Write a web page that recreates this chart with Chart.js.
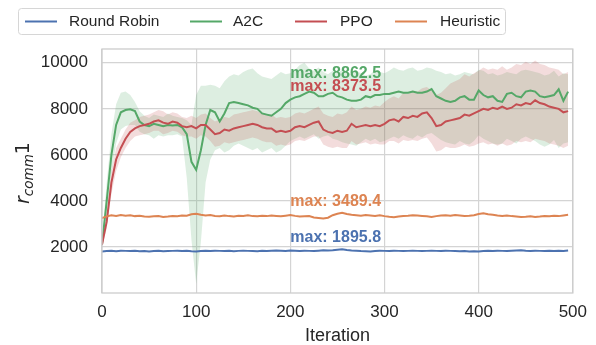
<!DOCTYPE html>
<html><head><meta charset="utf-8">
<script src="https://cdn.jsdelivr.net/npm/chart.js@4/dist/chart.umd.min.js"></script>
<style>html,body{margin:0;padding:0;background:#fff;} canvas{display:block;}</style>
</head><body>
<canvas id="c" width="596" height="345" style="width:596px;height:345px"></canvas>
<script>
const iterations = [0,5,10,15,20,25,30,35,40,45,50,55,60,65,70,75,80,85,90,95,100,105,110,115,120,125,130,135,140,145,150,155,160,165,170,175,180,185,190,195,200,205,210,215,220,225,230,235,240,245,250,255,260,265,270,275,280,285,290,295,300,305,310,315,320,325,330,335,340,345,350,355,360,365,370,375,380,385,390,395,400,405,410,415,420,425,430,435,440,445,450,455,460,465,470,475,480,485,490,495];

const roundRobin = [1800,1820,1830,1810,1840,1830,1820,1830,1810,1820,1800,1820,1830,1810,1820,1830,1840,1820,1830,1810,1800,1820,1830,1820,1840,1830,1820,1830,1810,1830,1840,1830,1820,1810,1830,1820,1840,1850,1840,1830,1850,1840,1830,1840,1830,1820,1840,1860,1850,1860,1880,1896,1870,1850,1840,1820,1810,1800,1820,1840,1830,1820,1840,1830,1820,1830,1840,1830,1820,1830,1840,1830,1820,1840,1830,1820,1810,1820,1800,1810,1800,1820,1830,1820,1840,1830,1820,1840,1850,1860,1840,1830,1840,1830,1820,1830,1820,1840,1830,1850];

const a2cMean = [2100,4000,6000,7300,7850,7950,7980,7900,7450,7300,7250,7350,7300,7250,7300,7280,7300,7200,6900,5700,5350,6200,7300,7950,7850,7450,7800,8250,8300,8250,8200,8150,8050,8000,7800,7750,7700,7850,8000,8250,8400,8500,8550,8650,8750,8700,8550,8550,8650,8700,8550,8500,8400,8350,8350,8400,8550,8500,8600,8600,8650,8650,8700,8750,8700,8700,8750,8700,8700,8750,8860,8550,8450,8350,8300,8350,8500,8550,8400,8400,8800,8600,8500,8550,8350,8300,8650,8700,8550,8500,8750,8800,8750,8550,8500,8550,8600,8850,8350,8750];
const a2cUpper = [2300,4800,6900,8200,8700,8750,8600,8300,7900,7700,7600,7750,7700,7650,7800,7700,7650,7600,7500,7300,8600,9000,9000,9050,9000,8900,9200,9400,9500,9450,9600,9700,9750,9550,9400,9350,9300,9450,9600,9500,9550,9700,9900,10000,9750,9650,9800,9600,9500,9650,9550,9700,9600,9500,9650,9550,9450,9500,9700,9600,9550,9650,9800,9700,9650,9750,9800,9650,9700,9800,9750,9650,9600,9500,9550,9450,9500,9600,9550,9500,9700,9650,9500,9550,9450,9500,9600,9550,9500,9650,9700,9650,9600,9550,9450,9500,9650,9400,9550,9500];
const a2cLower = [1950,3400,5200,6500,7100,7250,7300,7300,7000,6900,6850,6700,6850,6800,6850,6850,6900,6800,5000,2300,400,2200,4800,5800,6200,6300,6100,6200,6400,6500,6400,6300,6200,6300,6100,6200,6300,6100,6200,6400,6600,6700,6800,6700,6800,6900,6700,6800,6850,6700,6650,6550,6500,6450,6400,6550,6700,6600,6700,6550,6600,6700,6800,6700,6850,6750,6700,6850,6750,6900,6950,6800,6650,6550,6500,6450,6600,6500,6450,6600,6850,6700,6600,6500,6450,6500,6700,6600,6500,6700,6800,6700,6600,6450,6350,6450,6650,6300,6500,6550];

const ppoMean = [2100,3100,4800,5800,6300,6700,7000,7150,7250,7300,7350,7450,7500,7400,7350,7450,7400,7250,7200,7250,7150,7300,7300,7100,6900,6950,7100,7050,7150,7200,7250,7300,7350,7300,7200,7150,7150,7000,7050,7000,7050,7200,7250,7200,7300,7400,7450,7100,7000,6950,7050,7000,7050,7350,7200,7250,7300,7250,7300,7250,7350,7500,7550,7450,7650,7600,7700,7650,7800,7850,7600,7250,7300,7450,7500,7550,7600,7750,7700,7800,7900,8000,7950,8050,8000,8100,8000,8050,8200,8150,8250,8200,8370,8250,8200,8100,8050,8000,7850,7900];
const ppoUpper = [2200,3400,5300,6300,6700,7100,7400,7500,7650,7700,7750,7850,7950,7900,7750,7850,7800,7650,7600,7700,7600,7750,7800,7600,7450,7550,7650,7600,7750,7800,7850,7900,7950,7900,7800,7750,7750,7600,7650,7600,7650,7800,7850,7800,7900,8000,8100,7800,7700,7650,7800,7750,7850,8100,7950,8000,8100,8050,8150,8100,8300,8450,8550,8450,8700,8650,8800,8750,8900,8950,8800,8600,8700,8900,9100,9200,9300,9500,9400,9550,9650,9800,9700,9750,9700,9850,9700,9800,9950,9900,10050,9950,10100,9950,9900,9800,9750,9700,9500,9600];
const ppoLower = [2000,2800,4300,5300,5900,6300,6600,6800,6850,6900,6950,7050,7050,6900,6950,7050,7000,6850,6800,6800,6700,6850,6800,6600,6350,6400,6550,6500,6550,6600,6650,6700,6750,6700,6600,6550,6550,6400,6450,6400,6450,6600,6650,6600,6700,6800,6800,6450,6350,6300,6350,6300,6300,6600,6450,6500,6550,6450,6500,6450,6450,6600,6600,6500,6650,6600,6650,6600,6700,6750,6500,6150,6200,6350,6300,6300,6350,6450,6350,6400,6500,6550,6450,6500,6400,6500,6400,6450,6600,6550,6600,6550,6700,6650,6600,6500,6450,6400,6300,6400];

const heuristic = [3250,3330,3380,3350,3390,3360,3380,3340,3360,3320,3310,3330,3340,3300,3320,3350,3330,3370,3360,3420,3440,3400,3370,3390,3350,3330,3370,3340,3320,3360,3350,3380,3340,3330,3360,3340,3370,3350,3330,3360,3390,3350,3320,3330,3340,3280,3260,3240,3270,3380,3440,3489,3430,3400,3380,3360,3390,3370,3350,3380,3340,3310,3290,3320,3350,3360,3380,3370,3350,3330,3300,3340,3370,3380,3360,3390,3370,3350,3360,3380,3430,3460,3420,3400,3370,3350,3370,3340,3320,3300,3310,3330,3300,3320,3350,3330,3360,3340,3370,3400];

const seriesNames = ['Round Robin','A2C','PPO','Heuristic'];
const seriesColors = ['#4c72b0','#55a868','#c44e52','#dd8452'];
const maxValues = [1895.8, 8862.5, 8373.5, 3489.4];
const maxLabelX = 200;
const xTicks = [0,100,200,300,400,500];
const yTicks = [2000,4000,6000,8000,10000];

const pts = arr => iterations.map((x,i)=>({x:x, y:arr[i]}));
const FONT = '"Liberation Sans", Arial, sans-serif';
const TXT = '#262626';

function lineDs(label, arr, color, order){
  return {label, data: pts(arr), borderColor: color, backgroundColor: color, borderWidth: 2,
    pointRadius: 0, fill: false, tension: 0, order};
}
function bandDs(label, arr, color, order, fill){
  return {label, data: pts(arr), borderWidth: 0, borderColor: 'rgba(0,0,0,0)',
    backgroundColor: color, pointRadius: 0, fill: fill, tension: 0, order};
}

const datasets = [
  bandDs('A2C upper', a2cUpper, 'rgba(85,168,104,0.2)', 11, '+1'),
  bandDs('A2C lower', a2cLower, 'rgba(85,168,104,0.2)', 12, false),
  bandDs('PPO upper', ppoUpper, 'rgba(196,78,82,0.2)', 9, '+1'),
  bandDs('PPO lower', ppoLower, 'rgba(196,78,82,0.2)', 10, false),
  lineDs(seriesNames[0], roundRobin, seriesColors[0], 4),
  lineDs(seriesNames[1], a2cMean, seriesColors[1], 3),
  lineDs(seriesNames[2], ppoMean, seriesColors[2], 2),
  lineDs(seriesNames[3], heuristic, seriesColors[3], 1)
];

const extras = {
  id: 'extras',
  afterDatasetsDraw(chart){
    const ctx = chart.ctx, ca = chart.chartArea;
    const xs = chart.scales.x, ys = chart.scales.y;
    ctx.save();
    ctx.strokeStyle = '#cccccc'; ctx.lineWidth = 1.3;
    ctx.strokeRect(ca.left, ca.top, ca.right-ca.left, ca.bottom-ca.top);
    ctx.restore();
    const offs = [7.5, 11, 9.5, 6.7];
    ctx.save();
    ctx.font = 'bold 16px ' + FONT;
    ctx.textBaseline = 'alphabetic'; ctx.textAlign = 'left';
    maxValues.forEach((v,i)=>{
      ctx.fillStyle = seriesColors[i];
      ctx.fillText('max: ' + v.toFixed(1), xs.getPixelForValue(maxLabelX), ys.getPixelForValue(v) - offs[i]);
    });
    ctx.restore();
  },
  afterDraw(chart){
    const ctx = chart.ctx, ca = chart.chartArea;
    ctx.save();
    ctx.beginPath();
    ctx.roundRect(18.5, 8.5, 487, 26, 3);
    ctx.fillStyle = '#ffffff'; ctx.fill();
    ctx.strokeStyle = '#d6d6d6'; ctx.lineWidth = 1; ctx.stroke();
    const lx = [25, 190, 295, 395], tx = [69, 233, 340, 440];
    ctx.font = '15.5px ' + FONT; ctx.textBaseline = 'middle'; ctx.textAlign = 'left';
    seriesNames.forEach((n,i)=>{
      ctx.strokeStyle = seriesColors[i]; ctx.lineWidth = 2;
      ctx.beginPath(); ctx.moveTo(lx[i], 21.5); ctx.lineTo(lx[i]+32, 21.5); ctx.stroke();
      ctx.fillStyle = TXT; ctx.fillText(n, tx[i], 22);
    });
    ctx.restore();
    ctx.save();
    const cy = (ca.top + ca.bottom)/2 + 2;
    ctx.translate(29, cy);
    ctx.rotate(-Math.PI/2);
    ctx.fillStyle = TXT; ctx.textBaseline = 'alphabetic'; ctx.textAlign = 'left';
    const big = 'oblique 19px "DejaVu Sans"', small = 'oblique 13.5px "DejaVu Sans"', up = '19px "DejaVu Sans"';
    ctx.font = big; const w1 = ctx.measureText('r').width;
    ctx.font = small; const w2 = ctx.measureText('comm').width;
    ctx.font = up; const w3 = ctx.measureText('1').width;
    let x0 = -(w1+w2+w3)/2;
    ctx.font = big; ctx.fillText('r', x0, 0); x0 += w1;
    ctx.font = small; ctx.fillText('comm', x0, 4); x0 += w2;
    ctx.font = up; ctx.fillText('1', x0, 0);
    ctx.restore();
  }
};

new Chart(document.getElementById('c'), {
  type: 'line',
  data: { datasets },
  options: {
    responsive: false, animation: false, devicePixelRatio: 1,
    layout: { padding: { left: 0, right: 23, top: 49, bottom: 0 } },
    plugins: { legend: { display: false }, tooltip: { enabled: false }, filler: { propagate: false } },
    scales: {
      x: {
        type: 'linear', min: 0, max: 500,
        afterBuildTicks: s => { s.ticks = xTicks.map(v => ({value: v})); },
        afterFit: s => { s.height = 52; },
        grid: { color: '#d4d4d4', lineWidth: 1.2, drawTicks: false },
        border: { display: false },
        ticks: { font: { size: 17, family: FONT }, color: TXT, padding: 9, maxRotation: 0, callback: v => String(v) },
        title: { display: true, text: 'Iteration', font: { size: 18, family: FONT, lineHeight: 1 }, color: TXT, padding: { top: 0, bottom: 0 } }
      },
      y: {
        type: 'linear', min: 0, max: 10600,
        afterBuildTicks: s => { s.ticks = yTicks.map(v => ({value: v})); },
        afterFit: s => { s.width = 102; },
        grid: { color: '#d4d4d4', lineWidth: 1.2, drawTicks: false },
        border: { display: false },
        ticks: { font: { size: 17, family: FONT }, color: TXT, padding: 14, callback: v => String(v) }
      }
    }
  },
  plugins: [extras]
});
</script>
</body></html>
